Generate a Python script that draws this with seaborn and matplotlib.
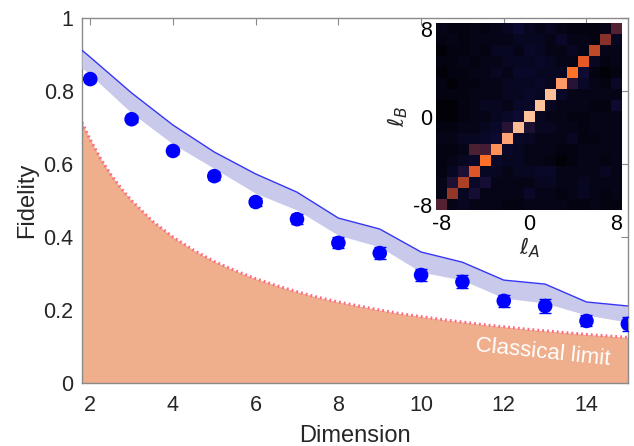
import numpy as np
import pandas as pd
import matplotlib
matplotlib.use('Agg')
import matplotlib.pyplot as plt
import seaborn as sns
from matplotlib.colors import LinearSegmentedColormap
from matplotlib.ticker import FuncFormatter

# measured fidelity
dims = [2, 3, 4, 5, 6, 7, 8, 9, 10, 11, 12, 13, 14, 15]
fidelity = [0.833, 0.723, 0.636, 0.567, 0.496, 0.449, 0.384, 0.356,
            0.296, 0.277, 0.225, 0.211, 0.170, 0.162]
fid_err = [0.008, 0.008, 0.008, 0.010, 0.012, 0.014, 0.015, 0.017,
           0.017, 0.018, 0.017, 0.018, 0.015, 0.020]

# theory band
band_dims = [1.8, 2, 3, 4, 5, 6, 7, 8, 9, 10, 11, 12, 13, 14, 15]
band_upper = [0.912, 0.893, 0.795, 0.707, 0.633, 0.573, 0.523, 0.452,
              0.422, 0.359, 0.331, 0.282, 0.271, 0.222, 0.211]
band_lower = [0.863, 0.845, 0.740, 0.655, 0.588, 0.520, 0.474, 0.405,
              0.373, 0.304, 0.282, 0.233, 0.219, 0.186, 0.167]

# classical limit curve
cl_dims = [1.8, 2, 2.25, 2.5, 2.75, 3, 3.5, 4, 4.5, 5, 5.5, 6, 6.5, 7, 7.5,
           8, 8.5, 9, 9.5, 10, 10.5, 11, 11.5, 12, 12.5, 13, 13.5, 14,
           14.5, 15]
cl_fid = [0.714, 0.667, 0.615, 0.571, 0.533, 0.500, 0.444, 0.400, 0.364,
          0.333, 0.308, 0.286, 0.267, 0.250, 0.235, 0.222, 0.211, 0.200,
          0.190, 0.182, 0.174, 0.167, 0.160, 0.154, 0.148, 0.143, 0.138,
          0.133, 0.129, 0.125]

# inset: joint OAM spectrum, rows l_B = 8 .. -8, columns l_A = -8 .. 8
ell = list(range(-8, 9))
diag_vals = [0.22, 0.38, 0.45, 0.58, 0.72, 0.82, 0.88, 0.95, 0.97, 0.97,
             0.96, 0.85, 0.74, 0.60, 0.50, 0.35, 0.22]
noise = [
    [3, 2, 2, 3, 2, 3, 4, 6, 4, 3, 4, 3, 2, 2, 2, 3, 0],
    [2, 3, 2, 3, 3, 3, 3, 4, 4, 4, 3, 5, 3, 3, 2, 0, 4],
    [1, 2, 2, 3, 2, 4, 4, 3, 5, 4, 3, 3, 4, 3, 0, 3, 3],
    [2, 2, 3, 2, 3, 3, 4, 4, 4, 5, 4, 3, 3, 0, 4, 2, 3],
    [1, 2, 2, 3, 3, 4, 3, 5, 5, 4, 4, 4, 0, 7, 2, 1, 2],
    [2, 1, 2, 2, 3, 3, 4, 4, 4, 5, 4, 0, 12, 5, 3, 2, 5],
    [2, 2, 2, 3, 3, 3, 4, 4, 5, 4, 0, 5, 3, 3, 3, 3, 3],
    [1, 1, 2, 3, 4, 4, 3, 5, 5, 0, 4, 3, 3, 3, 2, 2, 6],
    [1, 1, 2, 3, 3, 4, 5, 6, 0, 4, 3, 3, 2, 2, 3, 3, 3],
    [2, 2, 3, 3, 4, 5, 12, 0, 10, 4, 4, 3, 3, 2, 3, 3, 3],
    [3, 3, 4, 4, 5, 6, 0, 5, 4, 3, 3, 3, 4, 2, 2, 3, 3],
    [2, 2, 3, 20, 18, 0, 5, 4, 3, 3, 3, 2, 2, 3, 3, 3, 3],
    [2, 3, 4, 5, 0, 5, 4, 4, 3, 3, 2, 1, 2, 3, 3, 2, 3],
    [2, 4, 9, 0, 4, 4, 3, 4, 4, 5, 5, 3, 3, 3, 3, 4, 3],
    [3, 10, 0, 5, 8, 3, 3, 3, 3, 4, 4, 3, 3, 4, 3, 3, 3],
    [3, 0, 4, 8, 3, 3, 3, 3, 5, 3, 3, 2, 3, 4, 3, 2, 3],
    [0, 3, 4, 3, 3, 3, 2, 2, 3, 3, 3, 3, 2, 2, 3, 2, 2],
]

spec = np.array(noise, dtype=float) / 100.0
for i, lb in enumerate(ell[::-1]):
    spec[i, lb + 8] = diag_vals[lb + 8]
spec_df = pd.DataFrame(spec, index=ell[::-1], columns=ell)

sns.set_theme(style='white')
plt.rcParams['font.family'] = ['Liberation Sans', 'DejaVu Sans']
plt.rcParams['mathtext.fontset'] = 'dejavusans'

text_col = '#262626'
spine_col = '#8a8a8a'

fig = plt.figure(figsize=(6.34, 4.46), dpi=100)
ax = fig.add_axes([0.1293, 0.1413, 0.861, 0.818])

# classical region
ax.fill_between(cl_dims, 0, cl_fid, color='#EFAE8C', lw=0, zorder=1)
sns.lineplot(x=cl_dims, y=cl_fid, ax=ax, color='#FF6A80', lw=2.2,
             linestyle=(0, (0.6, 1.0)), zorder=2)

# theory band
ax.fill_between(band_dims, band_lower, band_upper, color='#C9C9EC',
                lw=0, zorder=3)
sns.lineplot(x=band_dims, y=band_upper, ax=ax, color='#3535F5', lw=1.0,
             zorder=4)

# data
ax.errorbar(dims, fidelity, yerr=fid_err, fmt='none', ecolor='#0000FF',
            elinewidth=1.0, capsize=4.5, capthick=1.0, zorder=5)
sns.scatterplot(x=dims, y=fidelity, ax=ax, color='#0000FF', s=110,
                edgecolor='none', zorder=6)

ax.text(12.95, 0.083, 'Classical limit', color='white', fontsize=16,
        rotation=-6, ha='center', va='center', zorder=7)

ax.set_xlim(1.8, 15)
ax.set_ylim(0, 1)
ax.set_xticks([2, 4, 6, 8, 10, 12, 14])
ax.set_yticks([0, 0.2, 0.4, 0.6, 0.8, 1.0])
ax.yaxis.set_major_formatter(FuncFormatter(lambda v, p: f'{v:g}'))
ax.tick_params(direction='in', length=5, width=0.8, color=spine_col,
               labelsize=15.5, labelcolor=text_col, top=True, right=True,
               pad=6)
ax.tick_params(axis='x', pad=9)
for sp in ax.spines.values():
    sp.set_color(spine_col)
    sp.set_linewidth(1.0)
ax.set_xlabel('Dimension', fontsize=17, color=text_col, labelpad=6)
ax.set_ylabel('Fidelity', fontsize=17, color=text_col, labelpad=4)

# inset heatmap
cmap = LinearSegmentedColormap.from_list('oam', [
    (0.0, (0.0, 0.0, 0.0)),
    (0.06, (0.05, 0.04, 0.20)),
    (0.20, (0.30, 0.12, 0.20)),
    (0.40, (0.60, 0.22, 0.16)),
    (0.60, (0.90, 0.35, 0.15)),
    (0.74, (1.00, 0.45, 0.16)),
    (0.86, (1.00, 0.62, 0.42)),
    (1.0, (1.00, 0.80, 0.66)),
])
ins = fig.add_axes([0.688, 0.529, 0.293, 0.419])
sns.heatmap(spec_df, ax=ins, cmap=cmap, vmin=0, vmax=1, cbar=False,
            square=False, xticklabels=False, yticklabels=False)
ins.set_xticks([0.5, 8.5, 16.5])
ins.set_xticklabels(['-8', '0', '8'], rotation=0)
ins.set_yticks([0.5, 8.5, 16.5])
ins.set_yticklabels(['8', '0', '-8'], rotation=0)
ins.tick_params(length=0, labelsize=15.5, labelcolor='black', pad=3)
ins.set_xlabel(r'$\ell_A$', fontsize=16, labelpad=0)
ins.set_ylabel(r'$\ell_B$', fontsize=16, labelpad=2)

fig.savefig('out.png', dpi=100)
